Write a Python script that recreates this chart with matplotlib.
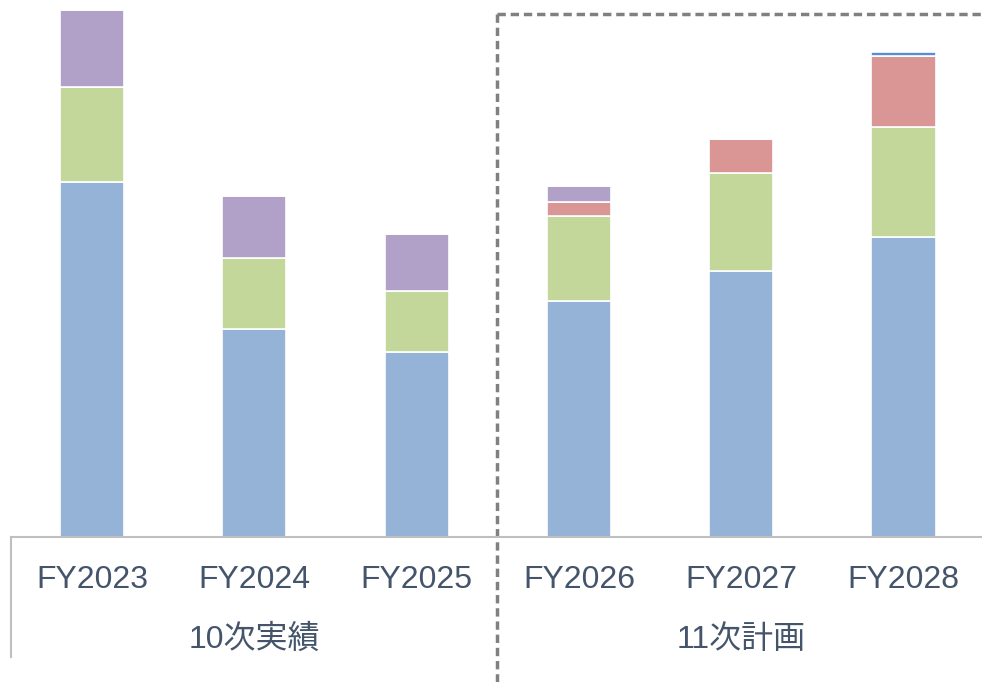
import matplotlib
matplotlib.use("Agg")
import matplotlib.pyplot as plt
from matplotlib.transforms import blended_transform_factory

plt.rcParams['font.family'] = ['Liberation Sans', 'Noto Sans CJK JP', 'DejaVu Sans']

years = ["FY2023", "FY2024", "FY2025", "FY2026", "FY2027", "FY2028"]
groups = ["10次実績", "11次計画"]
seg_blue = [355, 208, 185, 236, 266, 300]
seg_green = [95, 71, 61, 85, 98, 110]
seg_red = [0, 0, 0, 14, 34, 71]
seg_purple = [77, 62, 57, 16, 0, 0]
seg_top = [0, 0, 0, 0, 0, 4]

series = [
    (seg_blue, "#95B3D7"),
    (seg_green, "#C4D79B"),
    (seg_red, "#DA9694"),
    (seg_purple, "#B1A0C7"),
    (seg_top, "#558ED5"),
]

fig = plt.figure(figsize=(9.82, 6.82), dpi=100)
ax = fig.add_axes([11/982, 1-537/682, 971/982, 537/682])

x = list(range(len(years)))
bottom = [0]*len(years)
for vals, col in series:
    ax.bar(x, vals, width=0.395, bottom=bottom, color=col, edgecolor="white", linewidth=1.2, zorder=2)
    bottom = [b+v for b, v in zip(bottom, vals)]

ax.set_xlim(-0.5, 5.484)
ax.set_ylim(0, 537)
for s in ["top", "right", "left"]:
    ax.spines[s].set_visible(False)
ax.spines["bottom"].set_color("#BFBFBF")
ax.spines["bottom"].set_linewidth(1.5)
ax.set_yticks([])
ax.set_xticks(x)
ax.set_xticklabels(years, fontsize=23, color="#44546A")
ax.tick_params(axis="x", length=0, pad=20)

tr = blended_transform_factory(ax.transData, ax.transAxes)
# group labels
for i, g in enumerate(groups):
    ax.text(1 + 3*i, -0.191, g, transform=tr, ha="center", va="center", fontsize=23, color="#44546A")

# left solid line
ax.plot([-0.5, -0.5], [0, -120/537], transform=tr, color="#BFBFBF", lw=1.5, clip_on=False)
# divider dashed line
ax.plot([2.495, 2.495], [523/537, -145/537], transform=tr, color="#808080", lw=2.5,
        linestyle=(0, (2.4, 1.4)), clip_on=False)
ax.plot([2.495, 5.484], [523/537, 523/537], transform=tr, color="#808080", lw=2.5,
        linestyle=(0, (2.4, 1.4)), clip_on=False)

fig.savefig("out.png", dpi=100)
